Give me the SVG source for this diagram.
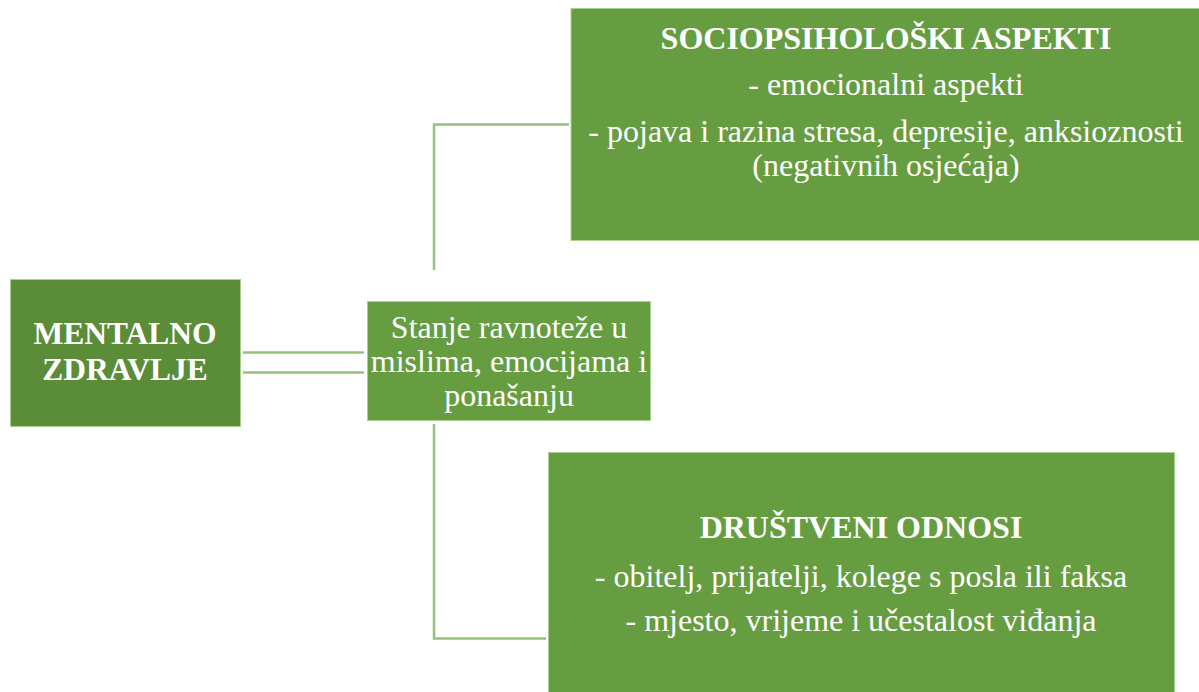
<svg xmlns="http://www.w3.org/2000/svg" width="1199" height="692" viewBox="0 0 1199 692">
<style>
.box{fill:#669d41;stroke:#a9d08e;stroke-width:1}
.dark{fill:#5b8c38;stroke:#a9d08e;stroke-width:1}
.conn{fill:none;stroke:#93c27c;stroke-width:2.5}
text{font-family:"Liberation Serif","Times New Roman","DejaVu Serif",serif;fill:#ffffff;text-anchor:middle}
.b{font-weight:bold}
.r{font-size:32px}
</style>
<rect width="1199" height="692" fill="#ffffff"/>
<g id="connectors">
<line class="conn" x1="243" y1="352.5" x2="364" y2="352.5"/>
<line class="conn" x1="243" y1="372.5" x2="364" y2="372.5"/>
<polyline class="conn" points="434,270 434,124.5 569,124.5"/>
<polyline class="conn" points="434,424 434,638.5 546,638.5"/>
</g>
<g id="mentalno">
<rect class="dark" x="10.5" y="279.5" width="230" height="147"/>
<text class="b" x="125" y="344" font-size="31.5">MENTALNO</text>
<text class="b" x="125" y="380" font-size="31.5">ZDRAVLJE</text>
</g>
<g id="stanje">
<rect class="box" x="367.5" y="301.5" width="283" height="119"/>
<text class="r" x="509" y="338">Stanje ravnoteže u</text>
<text class="r" x="509" y="372">mislima, emocijama i</text>
<text class="r" x="509" y="406">ponašanju</text>
</g>
<g id="sociopsiholoski">
<rect class="box" x="571" y="8.5" width="629" height="232"/>
<text class="b" x="886" y="49" font-size="32">SOCIOPSIHOLOŠKI ASPEKTI</text>
<text class="r" x="886" y="95">- emocionalni aspekti</text>
<text class="r" x="886" y="142">- pojava i razina stresa, depresije, anksioznosti</text>
<text class="r" x="886" y="176">(negativnih osjećaja)</text>
</g>
<g id="drustveni">
<rect class="box" x="548.5" y="452.5" width="626" height="241"/>
<text class="b" x="861" y="538" font-size="32">DRUŠTVENI ODNOSI</text>
<text class="r" x="861" y="587">- obitelj, prijatelji, kolege s posla ili faksa</text>
<text class="r" x="861" y="631">- mjesto, vrijeme i učestalost viđanja</text>
</g>
</svg>
